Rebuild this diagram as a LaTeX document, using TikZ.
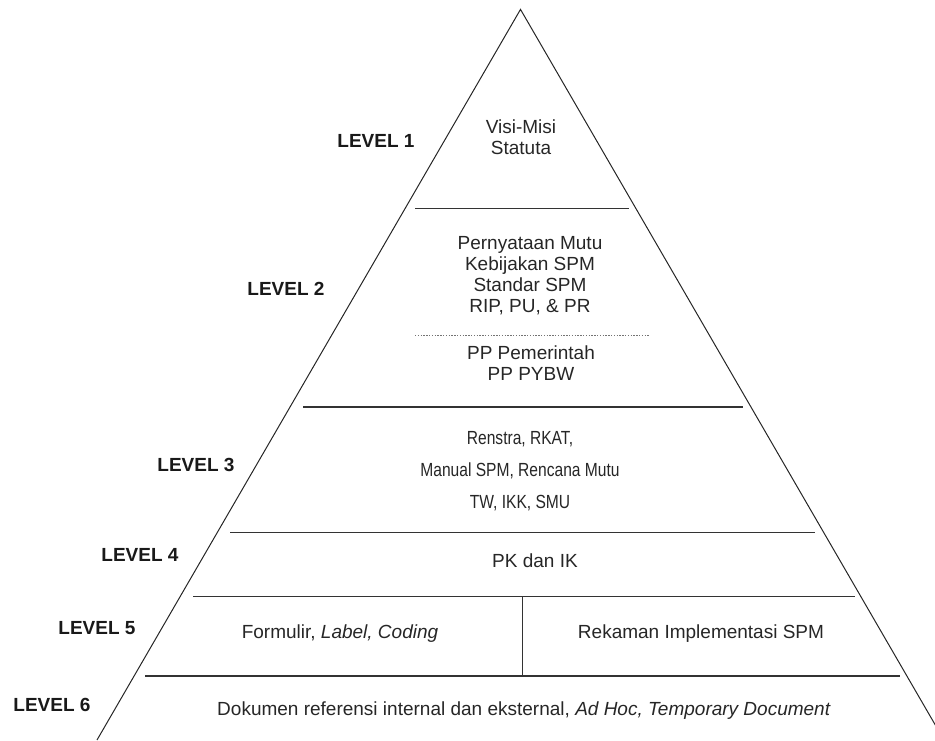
\documentclass[tikz,border=0pt]{standalone}
\usepackage{fontspec}
\setmainfont{Liberation Sans}
\begin{document}
\begin{tikzpicture}[x=1pt,y=-1pt,
  edge/.style={line width=1pt, black!85},
  sep/.style={line width=1.4pt, black!80},
  dots/.style={line width=0.9pt, black!55, dash pattern=on 1.4pt off 1.4pt},
  txt/.style={font=\fontsize{19}{21}\selectfont, text=black!85, align=center, inner sep=0pt},
  lvl/.style={font=\fontsize{19}{21}\selectfont\bfseries, text=black!90, inner sep=0pt}]
\useasboundingbox (0,0) rectangle (935,740);
\clip (0,0) rectangle (935,740);
% pyramid outline
\coordinate (apex) at (520.5,9.4);
\coordinate (bl) at (97,740);
\coordinate (br) at (944,740);
\draw[edge] (bl) -- (apex) -- (br);
% separators
\coordinate (s1a) at (415,208.5); \coordinate (s1b) at (629,208.5);
\coordinate (dta) at (415,335);   \coordinate (dtb) at (650,335);
\coordinate (s2a) at (303,407);   \coordinate (s2b) at (743,407);
\coordinate (s3a) at (230,532.5); \coordinate (s3b) at (815,532.5);
\coordinate (s4a) at (193,596.5); \coordinate (s4b) at (855,596.5);
\coordinate (s5a) at (145,676);   \coordinate (s5b) at (900,676);
\coordinate (dva) at (522.5,596.5); \coordinate (dvb) at (522.5,676);
\draw[sep] (s1a) -- (s1b);
\draw[dots] (dta) -- (dtb);
\draw[sep] (s2a) -- (s2b);
\draw[sep] (s3a) -- (s3b);
\draw[sep] (s4a) -- (s4b);
\draw[sep] (s5a) -- (s5b);
\draw[sep] (dva) -- (dvb);
% level labels
\node[lvl] (L1) at (376,141) {LEVEL 1};
\node[lvl] (L2) at (286,289) {LEVEL 2};
\node[lvl] (L3) at (196,465) {LEVEL 3};
\node[lvl] (L4) at (140,555) {LEVEL 4};
\node[lvl] (L5) at (97,628) {LEVEL 5};
\node[lvl] (L6) at (52,705) {LEVEL 6};
% contents
\node[txt] (t1) at (521,137) {Visi-Misi\\Statuta};
\node[txt] (t2) at (530,276) {Pernyataan Mutu\\Kebijakan SPM\\Standar SPM\\RIP, PU, \& PR};
\node[txt] (t2b) at (531,363) {PP Pemerintah\\PP PYBW};
\node[txt, xscale=0.82, font=\fontsize{19}{31.8}\selectfont] (t3) at (520,471) {Renstra, RKAT,\\Manual SPM, Rencana Mutu\\TW, IKK, SMU};
\node[txt] (t4) at (535,561) {PK dan IK};
\node[txt] (t5a) at (340,634) {Formulir, \textit{Label, Coding}};
\node[txt] (t5b) at (701,634) {Rekaman Implementasi SPM};
\node[txt] (t6) at (524,711) {Dokumen referensi internal dan eksternal, \textit{Ad Hoc, Temporary Document}};
\end{tikzpicture}
\end{document}
